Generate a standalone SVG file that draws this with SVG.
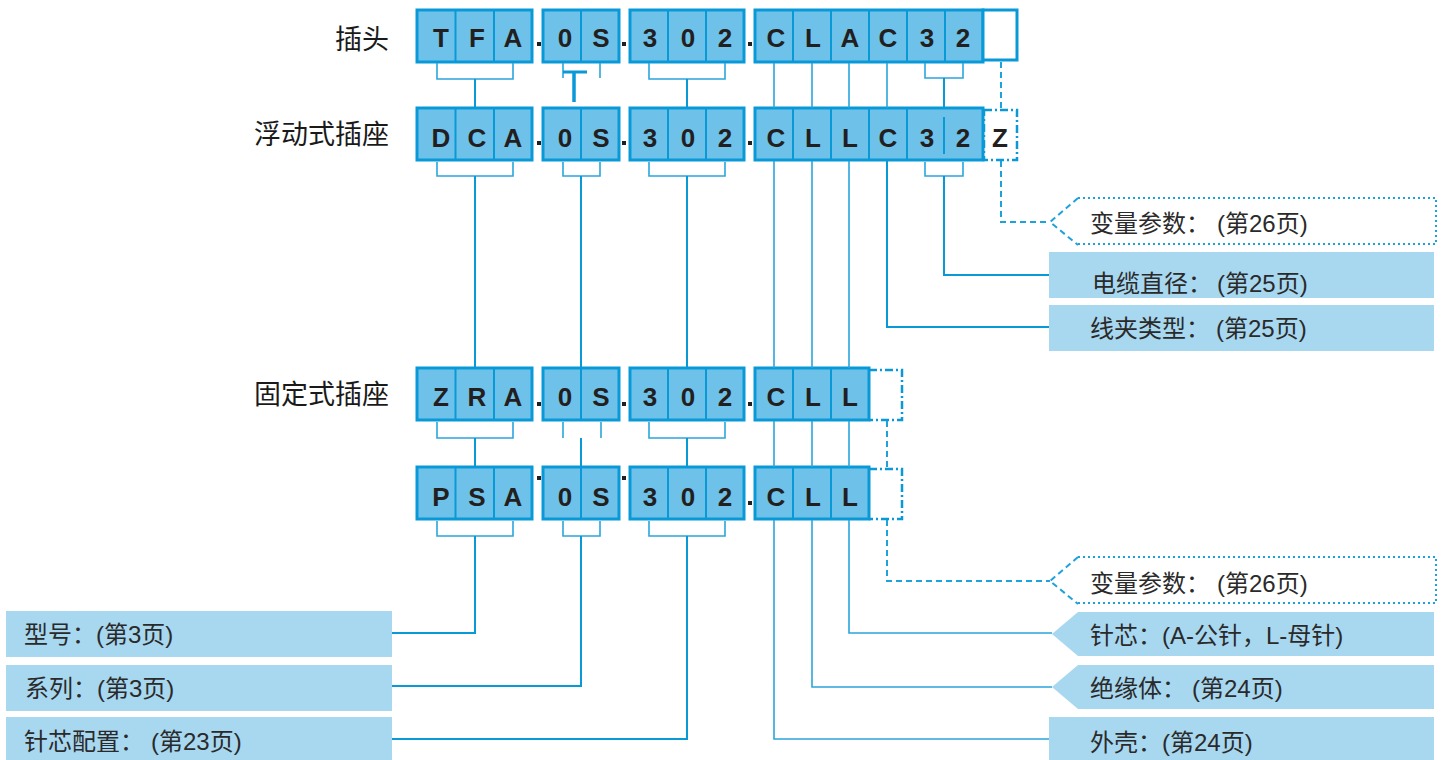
<svg xmlns="http://www.w3.org/2000/svg" width="1446" height="760" viewBox="0 0 1446 760">
<style>
.cell{fill:#6ec2ea;stroke:#0a99d7;stroke-width:3}
.div{stroke:#0a99d7;stroke-width:2}
.wbox{fill:#fff;stroke:#0a99d7;stroke-width:3}
.dbox{fill:none;stroke:#0a99d7;stroke-width:2.5;stroke-dasharray:8 3 2 3}
.let{font-family:"Liberation Sans",Arial,sans-serif;font-weight:bold;font-size:26px;fill:#231f20;text-anchor:middle}
.ttl{font-family:"Liberation Sans","Noto Sans CJK SC",sans-serif;font-size:27px;fill:#1a1a1a;text-anchor:end}
.lbl{font-family:"Liberation Sans","Noto Sans CJK SC",sans-serif;font-size:24px;fill:#2a2a2a}
.lab{fill:#a8d7f0}
.dot{fill:#231f20}
.br{fill:none;stroke:#2ba5dd;stroke-width:1.6}
.st{fill:none;stroke:#0a99d7;stroke-width:2}
.dash{fill:none;stroke:#1ea2dc;stroke-width:2;stroke-dasharray:6 4}
.dotted{fill:none;stroke:#1ea2dc;stroke-width:2;stroke-dasharray:2 3}
</style>

<g id="titles">
<text class="ttl" x="389" y="49">插头</text>
<text class="ttl" x="389" y="144">浮动式插座</text>
<text class="ttl" x="389" y="404">固定式插座</text>
</g>

<g id="row1">
<rect class="cell" x="417" y="10" width="115" height="52"/>
<line class="div" x1="455.5" y1="10" x2="455.5" y2="63"/><line class="div" x1="494" y1="10" x2="494" y2="63"/>
<rect class="cell" x="543" y="10" width="76" height="52"/>
<line class="div" x1="581" y1="10" x2="581" y2="63"/>
<rect class="cell" x="630" y="10" width="114" height="52"/>
<line class="div" x1="668" y1="10" x2="668" y2="63"/><line class="div" x1="706" y1="10" x2="706" y2="63"/>
<rect class="cell" x="755" y="10" width="228" height="52"/>
<line class="div" x1="793" y1="10" x2="793" y2="63"/><line class="div" x1="831" y1="10" x2="831" y2="63"/><line class="div" x1="869" y1="10" x2="869" y2="63"/><line class="div" x1="907" y1="10" x2="907" y2="63"/><line class="div" x1="945" y1="10" x2="945" y2="63"/>
<rect class="wbox" x="983" y="10" width="34" height="50"/>
<rect class="dot" x="537" y="42" width="4" height="4"/><rect class="dot" x="622" y="42" width="4" height="4"/><rect class="dot" x="748" y="42" width="4" height="4"/>
<text class="let" y="47"><tspan x="441">T</tspan><tspan x="477">F</tspan><tspan x="513">A</tspan><tspan x="565">0</tspan><tspan x="601">S</tspan><tspan x="650">3</tspan><tspan x="688">0</tspan><tspan x="725">2</tspan><tspan x="776">C</tspan><tspan x="813">L</tspan><tspan x="850">A</tspan><tspan x="888">C</tspan><tspan x="927">3</tspan><tspan x="963">2</tspan></text>
</g>

<g id="row2">
<rect class="cell" x="417" y="108" width="115" height="52"/>
<line class="div" x1="455.5" y1="108" x2="455.5" y2="161"/><line class="div" x1="494" y1="108" x2="494" y2="161"/>
<rect class="cell" x="543" y="108" width="76" height="52"/>
<line class="div" x1="581" y1="108" x2="581" y2="161"/>
<rect class="cell" x="630" y="108" width="114" height="52"/>
<line class="div" x1="668" y1="108" x2="668" y2="161"/><line class="div" x1="706" y1="108" x2="706" y2="161"/>
<rect class="cell" x="755" y="108" width="228" height="52"/>
<line class="div" x1="793" y1="108" x2="793" y2="161"/><line class="div" x1="831" y1="108" x2="831" y2="161"/><line class="div" x1="869" y1="108" x2="869" y2="161"/><line class="div" x1="907" y1="108" x2="907" y2="161"/><line class="div" x1="944" y1="117" x2="944" y2="154"/>
<rect class="dbox" x="984" y="110" width="33" height="50"/>
<rect class="dot" x="537" y="141" width="4" height="4"/><rect class="dot" x="622" y="141" width="4" height="4"/><rect class="dot" x="748" y="141" width="4" height="4"/>
<text class="let" y="147"><tspan x="441">D</tspan><tspan x="477">C</tspan><tspan x="513">A</tspan><tspan x="565">0</tspan><tspan x="601">S</tspan><tspan x="650">3</tspan><tspan x="688">0</tspan><tspan x="725">2</tspan><tspan x="776">C</tspan><tspan x="813">L</tspan><tspan x="850">L</tspan><tspan x="888">C</tspan><tspan x="927">3</tspan><tspan x="963">2</tspan><tspan x="1000">Z</tspan></text>
</g>

<g id="row3">
<rect class="cell" x="417" y="368" width="115" height="52"/>
<line class="div" x1="455.5" y1="368" x2="455.5" y2="421"/><line class="div" x1="494" y1="368" x2="494" y2="421"/>
<rect class="cell" x="543" y="368" width="76" height="52"/>
<line class="div" x1="581" y1="368" x2="581" y2="421"/>
<rect class="cell" x="630" y="368" width="114" height="52"/>
<line class="div" x1="668" y1="368" x2="668" y2="421"/><line class="div" x1="706" y1="368" x2="706" y2="421"/>
<rect class="cell" x="755" y="368" width="114" height="52"/>
<line class="div" x1="793" y1="368" x2="793" y2="421"/><line class="div" x1="831" y1="368" x2="831" y2="421"/>
<path class="dbox" d="M869,370 H902 V420 H869"/>
<rect class="dot" x="537" y="402" width="4" height="4"/><rect class="dot" x="622" y="402" width="4" height="4"/><rect class="dot" x="748" y="402" width="4" height="4"/>
<text class="let" y="406"><tspan x="441">Z</tspan><tspan x="477">R</tspan><tspan x="513">A</tspan><tspan x="565">0</tspan><tspan x="601">S</tspan><tspan x="650">3</tspan><tspan x="688">0</tspan><tspan x="725">2</tspan><tspan x="776">C</tspan><tspan x="813">L</tspan><tspan x="850">L</tspan></text>
</g>

<g id="row4">
<rect class="cell" x="417" y="467" width="115" height="52"/>
<line class="div" x1="455.5" y1="467" x2="455.5" y2="520"/><line class="div" x1="494" y1="467" x2="494" y2="520"/>
<rect class="cell" x="543" y="467" width="76" height="52"/>
<line class="div" x1="581" y1="467" x2="581" y2="520"/>
<rect class="cell" x="630" y="467" width="114" height="52"/>
<line class="div" x1="668" y1="467" x2="668" y2="520"/><line class="div" x1="706" y1="467" x2="706" y2="520"/>
<rect class="cell" x="755" y="467" width="114" height="52"/>
<line class="div" x1="793" y1="467" x2="793" y2="520"/><line class="div" x1="831" y1="467" x2="831" y2="520"/>
<path class="dbox" d="M869,469 H902 V519 H869"/>
<rect class="dot" x="537" y="476" width="4" height="4"/><rect class="dot" x="622" y="476" width="4" height="4"/><rect class="dot" x="748" y="501" width="4" height="4"/>
<text class="let" y="506"><tspan x="441">P</tspan><tspan x="477">S</tspan><tspan x="513">A</tspan><tspan x="565">0</tspan><tspan x="601">S</tspan><tspan x="650">3</tspan><tspan x="688">0</tspan><tspan x="725">2</tspan><tspan x="776">C</tspan><tspan x="813">L</tspan><tspan x="850">L</tspan></text>
</g>

<g id="connectors">
<path class="br" d="M437,63 V79 H513 V63"/><path class="st" d="M475,79 V108"/>
<path class="br" d="M563,63 V78 M600,63 V78"/><path class="st" d="M563,72 H587" style="stroke-width:3"/><path class="st" d="M574,72 V102" style="stroke-width:3.5"/>
<path class="br" d="M649,63 V79 H725 V63"/><path class="st" d="M687,79 V108"/>
<path class="br" d="M774,63 V108 M812,63 V108 M849,63 V108 M887,63 V108"/>
<path class="br" d="M925,63 V78 H963 V63"/><path class="st" d="M944,78 V108"/>
<path class="dash" d="M1001,62 V108"/>

<path class="br" d="M437,162 V176 H513 V162"/><path class="st" d="M475,176 V368"/>
<path class="br" d="M563,162 V176 H600 V162"/><path class="st" d="M581,176 V368"/>
<path class="br" d="M649,162 V176 H725 V162"/><path class="st" d="M687,176 V368"/>
<path class="br" d="M774,161 V368 M812,161 V368 M849,161 V368"/>
<path class="st" d="M887,161 V327 H1049"/>
<path class="br" d="M925,162 V176 H963 V162"/><path class="st" d="M944,176 V275 H1049"/>
<path class="dash" d="M1001,161 V222 H1050"/>

<path class="br" d="M437,422 V438 H513 V422"/><path class="st" d="M475,438 V467"/>
<path class="br" d="M563,422 V438 M601,422 V438"/><path class="st" d="M581,438 V467"/>
<path class="br" d="M649,422 V438 H725 V422"/><path class="st" d="M687,438 V467"/>
<path class="br" d="M774,421 V467 M812,421 V467 M849,421 V467"/>
<path class="dash" d="M887,421 V467"/>

<path class="br" d="M437,521 V536 H513 V521"/><path class="st" d="M475,536 V633 H392"/>
<path class="br" d="M563,521 V536 H600 V521"/><path class="st" d="M581,536 V686 H392"/>
<path class="br" d="M649,521 V536 H725 V521"/><path class="st" d="M687,536 V739 H392"/>
<path class="br" d="M774,520 V739 H1049 M812,520 V687 H1052 M849,520 V633 H1052"/>
<path class="dash" d="M887,520 V581 H1050"/>
</g>

<g id="label-var1">
<path class="dash" d="M1078,198 L1050,222 L1078,245"/>
<path class="dotted" d="M1078,198 H1436 V244 H1078"/>
<text class="lbl" y="232"><tspan x="1090">变量参数：</tspan><tspan x="1217">(第26页)</tspan></text>
</g>
<g id="label-cable">
<rect class="lab" x="1049" y="252" width="385" height="46"/>
<text class="lbl" y="292"><tspan x="1092">电缆直径：</tspan><tspan x="1217">(第25页)</tspan></text>
</g>
<g id="label-clamp">
<rect class="lab" x="1049" y="305" width="385" height="46"/>
<text class="lbl" y="337"><tspan x="1090">线夹类型：</tspan><tspan x="1216">(第25页)</tspan></text>
</g>
<g id="label-var2">
<path class="dash" d="M1078,557 L1050,581 L1078,604"/>
<path class="dotted" d="M1078,557 H1436 V603 H1078"/>
<text class="lbl" y="592"><tspan x="1090">变量参数：</tspan><tspan x="1217">(第26页)</tspan></text>
</g>
<g id="label-pin">
<polygon class="lab" points="1052,634 1078,612 1434,612 1434,656 1078,656"/>
<text class="lbl" x="1090" y="644">针芯：(A-公针，L-母针)</text>
</g>
<g id="label-insul">
<polygon class="lab" points="1052,687 1078,665 1434,665 1434,709 1078,709"/>
<text class="lbl" y="697"><tspan x="1090">绝缘体：</tspan><tspan x="1192">(第24页)</tspan></text>
</g>
<g id="label-shell">
<rect class="lab" x="1049" y="717" width="385" height="43"/>
<text class="lbl" x="1090" y="751">外壳：(第24页)</text>
</g>
<g id="label-model">
<rect class="lab" x="6" y="611" width="386" height="46"/>
<text class="lbl" x="24" y="643">型号：(第3页)</text>
</g>
<g id="label-series">
<rect class="lab" x="6" y="665" width="386" height="46"/>
<text class="lbl" x="25" y="697">系列：(第3页)</text>
</g>
<g id="label-config">
<rect class="lab" x="6" y="717" width="386" height="43"/>
<text class="lbl" y="750"><tspan x="24">针芯配置：</tspan><tspan x="151">(第23页)</tspan></text>
</g>
</svg>
